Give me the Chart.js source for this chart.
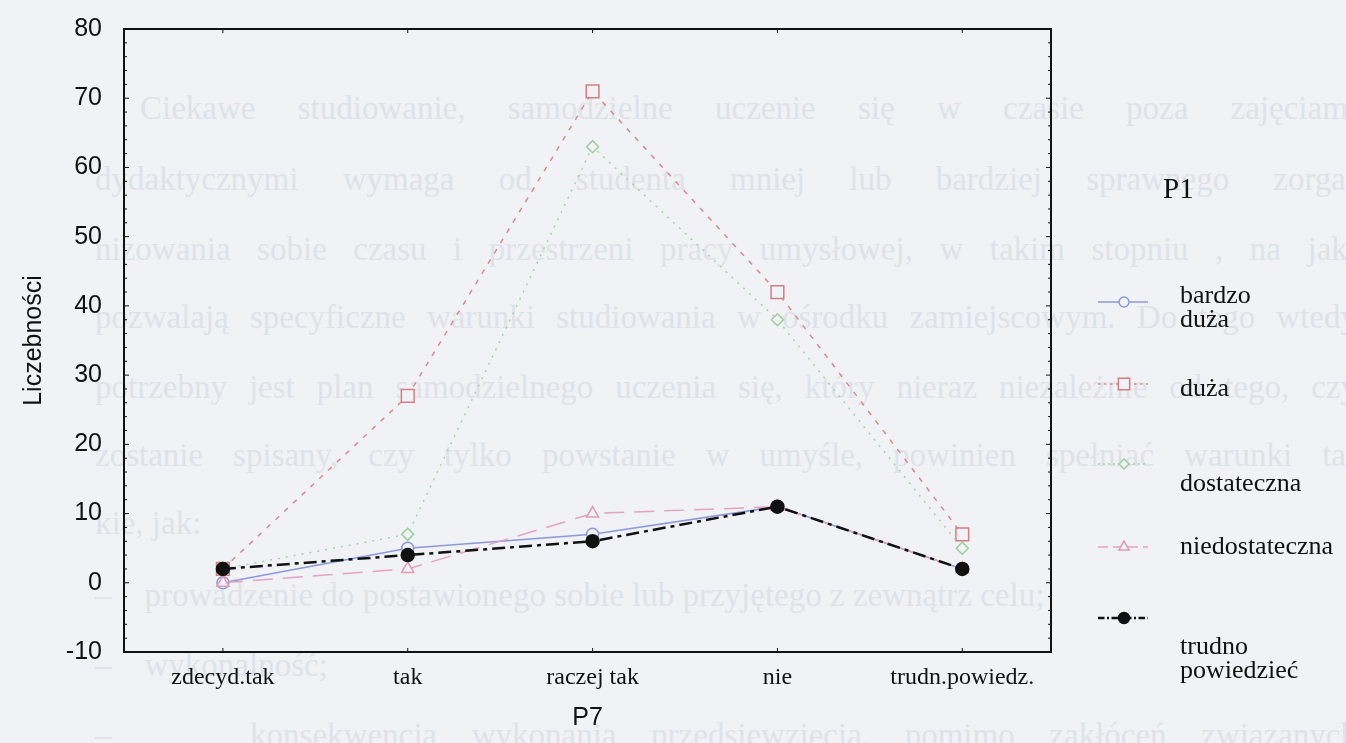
<!DOCTYPE html>
<html>
<head>
<meta charset="utf-8">
<script src="https://cdn.jsdelivr.net/npm/chart.js@4"></script>
<style>
  html, body { margin: 0; padding: 0; background: #f0f2f6; }
  #wrap { position: relative; width: 1346px; height: 743px; overflow: hidden; }
  #ghost { position: absolute; left: 0; top: 0; width: 1346px; height: 743px; font-family: "Liberation Serif", serif; font-size: 33px; color: #dfe2e9; }
  #ghost div { position: absolute; left: 95px; width: 1262px; text-align: justify; text-align-last: justify; white-space: nowrap; }
  canvas { position: absolute; left: 0; top: 0; }
</style>
</head>
<body>
<div id="wrap">
  <div id="ghost">
    <div style="top:90px;left:140px;width:1217px">Ciekawe studiowanie, samodzielne uczenie się w czasie poza zajęciami</div>
    <div style="top:161px">dydaktycznymi wymaga od studenta mniej lub bardziej sprawnego zorga-</div>
    <div style="top:231px">nizowania sobie czasu i przestrzeni pracy umysłowej, w takim stopniu , na jaki</div>
    <div style="top:299px">pozwalają specyficzne warunki studiowania w ośrodku zamiejscowym. Do tego wtedy</div>
    <div style="top:369px">potrzebny jest plan samodzielnego uczenia się, który nieraz niezależnie od tego, czy</div>
    <div style="top:437px">zostanie spisany, czy tylko powstanie w umyśle, powinien spełniać warunki ta-</div>
    <div style="top:505px;text-align-last:left">kie, jak:</div>
    <div style="top:577px;text-align-last:left">–&nbsp;&nbsp;&nbsp;&nbsp;prowadzenie do postawionego sobie lub przyjętego z zewnątrz celu;</div>
    <div style="top:647px;text-align-last:left">–&nbsp;&nbsp;&nbsp;&nbsp;wykonalność;</div>
    <div style="top:717px">–&nbsp;&nbsp;&nbsp;&nbsp;konsekwencja wykonania przedsięwzięcia, pomimo zakłóceń związanych</div>
  </div>
  <canvas id="chart" width="1346" height="743"></canvas>
</div>
<script>
const categories = ['zdecyd.tak', 'tak', 'raczej tak', 'nie', 'trudn.powiedz.'];
const seriesNames = [['bardzo', 'duża'], ['duża'], ['dostateczna'], ['niedostateczna'], ['trudno', 'powiedzieć']];
const bardzoDuza = [0, 5, 7, 11, 2];
const duza = [2, 27, 71, 42, 7];
const dostateczna = [2, 7, 63, 38, 5];
const niedostateczna = [0, 2, 10, 11, 2];
const trudnoPowiedziec = [2, 4, 6, 11, 2];
const yTicks = [-10, 0, 10, 20, 30, 40, 50, 60, 70, 80];

const bg = '#f0f2f6';
const toPoints = arr => arr.map((v, i) => ({ x: i, y: v }));

const datasets = [
  { label: seriesNames[0].join(' '), data: toPoints(bardzoDuza), borderColor: '#8c98d8', pointBorderColor: '#8c98d8',
    borderWidth: 1.5, borderDash: [], pointStyle: 'circle', pointRadius: 6, order: 4 },
  { label: seriesNames[1].join(' '), data: toPoints(duza), borderColor: '#d98a8a', pointBorderColor: '#d47f7f',
    borderWidth: 1.5, borderDash: [5, 7], pointStyle: 'rect', pointRadius: 9, order: 3 },
  { label: seriesNames[2].join(' '), data: toPoints(dostateczna), borderColor: '#a4d4a4', pointBorderColor: '#9ccf9c',
    borderWidth: 1.5, borderDash: [2, 6], pointStyle: 'rectRot', pointRadius: 6, order: 2 },
  { label: seriesNames[3].join(' '), data: toPoints(niedostateczna), borderColor: '#e6a2c2', pointBorderColor: '#e09ab8',
    borderWidth: 1.5, borderDash: [20, 10], pointStyle: 'triangle', pointRadius: 7, order: 1 },
  { label: seriesNames[4].join(' '), data: toPoints(trudnoPowiedziec), borderColor: '#111', pointBorderColor: '#111',
    borderWidth: 2.5, borderDash: [13, 5, 4, 5], pointStyle: 'circle', pointRadius: 6.5, order: 0 }
];
datasets.forEach(d => {
  d.pointBackgroundColor = d.order === 0 ? '#111' : bg;
  d.pointBorderWidth = 1.5;
  d.tension = 0;
  d.fill = false;
});

// frame, small ticks, axis titles and the P1 legend
const extras = {
  id: 'extras',
  afterDraw(chart) {
    const ctx = chart.ctx;
    const a = chart.chartArea;
    ctx.save();
    ctx.strokeStyle = '#111';
    ctx.lineWidth = 2;
    ctx.strokeRect(a.left, a.top, a.right - a.left, a.bottom - a.top);

    const y = chart.scales.y, x = chart.scales.x;
    ctx.lineWidth = 1;
    ctx.beginPath();
    for (let v = -10; v <= 80; v += 2) {
      const py = y.getPixelForValue(v);
      const len = v % 10 === 0 ? 5 : 3;
      ctx.moveTo(a.left, py); ctx.lineTo(a.left + len, py);
      ctx.moveTo(a.right, py); ctx.lineTo(a.right - len, py);
    }
    categories.forEach((c, i) => {
      const px = x.getPixelForValue(i);
      ctx.moveTo(px, a.top); ctx.lineTo(px, a.top + 4);
      ctx.moveTo(px, a.bottom); ctx.lineTo(px, a.bottom - 4);
    });
    ctx.stroke();

    ctx.fillStyle = '#111';
    ctx.font = '25px "Liberation Sans", Arial, sans-serif';
    ctx.textAlign = 'center';
    ctx.textBaseline = 'middle';
    ctx.fillText('P7', (a.left + a.right) / 2, 718);
    ctx.save();
    ctx.translate(34, (a.top + a.bottom) / 2);
    ctx.rotate(-Math.PI / 2);
    ctx.fillText('Liczebności', 0, 0);
    ctx.restore();

    // legend
    ctx.font = '29px "Liberation Serif", "Times New Roman", serif';
    ctx.textAlign = 'left';
    ctx.fillText('P1', 1163, 190);
    const rows = [
      { my: 302, ty: [296, 320] },
      { my: 384, ty: [389] },
      { my: 464, ty: [484] },
      { my: 547, ty: [547] },
      { my: 618, ty: [647, 671] }
    ];
    ctx.font = '26px "Liberation Serif", "Times New Roman", serif';
    chart.data.datasets.forEach((d, i) => {
      const r = rows[i];
      ctx.save();
      ctx.strokeStyle = d.borderColor;
      ctx.lineWidth = d.borderWidth;
      ctx.setLineDash(d.borderDash.length ? d.borderDash.map(n => Math.max(2, n / 2)) : []);
      ctx.beginPath();
      ctx.moveTo(1098, r.my); ctx.lineTo(1148, r.my);
      ctx.stroke();
      ctx.setLineDash([]);
      ctx.strokeStyle = d.pointBorderColor;
      ctx.fillStyle = d.pointBackgroundColor;
      ctx.lineWidth = d.pointBorderWidth;
      Chart.helpers.drawPoint(ctx, { pointStyle: d.pointStyle, radius: d.pointRadius - 1, rotation: 0, borderWidth: d.pointBorderWidth }, 1124, r.my);
      ctx.restore();
      ctx.fillStyle = '#111';
      seriesNames[i].forEach((t, k) => ctx.fillText(t, 1180, r.ty[k]));
    });
    ctx.restore();
  }
};

new Chart(document.getElementById('chart').getContext('2d'), {
  type: 'line',
  data: { datasets },
  options: {
    responsive: false,
    animation: false,
    layout: { padding: { left: 0, top: 26, right: 295, bottom: 0 } },
    plugins: { legend: { display: false }, tooltip: { enabled: false } },
    scales: {
      x: {
        type: 'linear',
        min: -0.535,
        max: 4.48,
        afterBuildTicks: s => { s.ticks = categories.map((c, i) => ({ value: i })); },
        afterFit: s => { s.height = 91; },
        grid: { display: false },
        border: { display: false },
        ticks: {
          padding: 3,
          color: '#111',
          font: { family: '"Liberation Serif", "Times New Roman", serif', size: 24 },
          callback: v => categories[v]
        }
      },
      y: {
        min: -10,
        max: 80,
        afterBuildTicks: s => { s.ticks = yTicks.map(v => ({ value: v })); },
        afterFit: s => { s.width = 124; },
        grid: { display: false },
        border: { display: false },
        ticks: {
          padding: 14,
          color: '#111',
          font: { family: '"Liberation Sans", Arial, sans-serif', size: 25 }
        }
      }
    }
  },
  plugins: [extras]
});
</script>
</body>
</html>
